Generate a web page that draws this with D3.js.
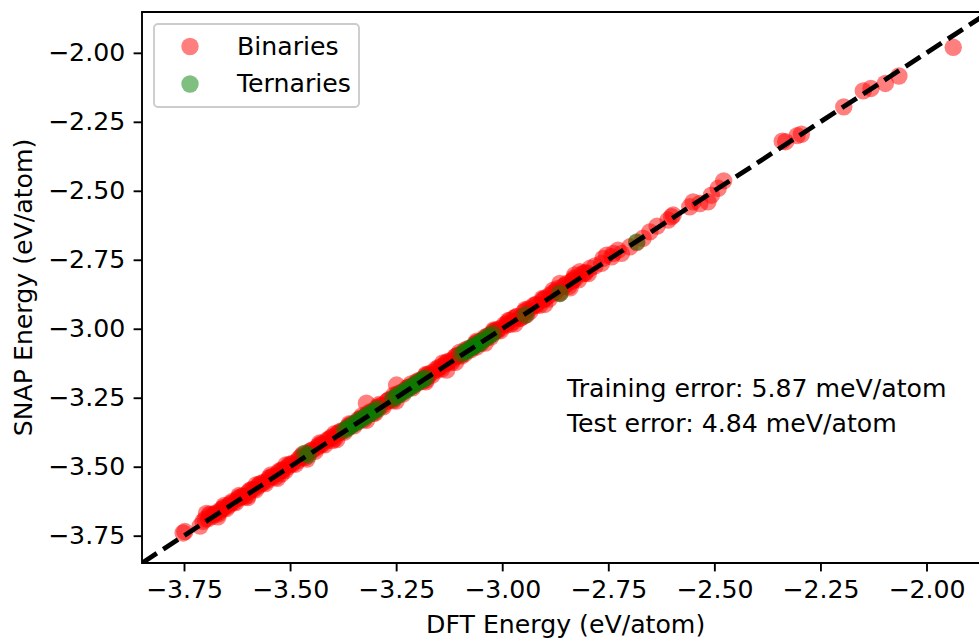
<!DOCTYPE html>
<html>
<head>
<meta charset="utf-8">
<script src="https://cdn.jsdelivr.net/npm/d3@7"></script>
<style>
  html, body { margin: 0; padding: 0; background: #fff; }
  svg { display: block; }
  text { font-family: "DejaVu Sans", sans-serif; fill: #000; }
</style>
</head>
<body>
<svg id="chart" width="979" height="638"></svg>
<script>
// ---- data ----
const tickValues = [-3.75, -3.50, -3.25, -3.00, -2.75, -2.50, -2.25, -2.00];
const seriesNames = ["Binaries", "Ternaries"];

const binariesDFT = [
  -1.937, -2.065, -2.097, -2.131, -2.149, -2.195, -2.295, -2.305, -2.332, -2.340,
  -2.478, -2.491, -2.507, -2.515, -2.534, -2.550, -2.558, -2.597, -2.601, -2.609,
  -2.635, -2.652, -2.668, -2.683, -2.699, -2.719, -2.727, -2.738, -2.742, -2.754,
  -2.762, -2.766, -2.781, -2.793, -2.805, -2.817, -2.829, -2.835, -2.848, -2.864,
  -2.864, -2.880, -2.888, -2.903, -2.919, -2.935, -2.943, -2.950, -2.958, -2.966,
  -2.974, -2.982, -2.990, -3.005, -3.012, -3.021, -3.029, -3.040, -3.050, -3.060,
  -3.062, -3.075, -3.088, -3.098, -3.110, -3.120, -3.131, -3.131, -3.142, -3.153,
  -3.165, -3.175, -3.180, -3.186, -3.198, -3.210, -3.222, -3.235, -3.249, -3.247,
  -3.258, -3.270, -3.282, -3.295, -3.300, -3.306, -3.320, -3.318, -3.330, -3.342,
  -3.355, -3.366, -3.378, -3.390, -3.400, -3.402, -3.413, -3.425, -3.436, -3.447,
  -3.458, -3.470, -3.482, -3.494, -3.505, -3.517, -3.520, -3.528, -3.540, -3.552,
  -3.563, -3.575, -3.586, -3.598, -3.600, -3.610, -3.621, -3.632, -3.644, -3.655,
  -3.667, -3.678, -3.689, -3.697, -3.712, -3.748, -3.752,
  -3.705, -3.700, -3.693, -3.684, -3.676, -3.670, -3.662, -3.657, -3.650, -3.641,
  -3.636, -3.628, -3.620, -3.614, -3.606, -3.595, -3.590, -3.581, -3.572, -3.566,
  -3.558, -3.549, -3.543, -3.534, -3.525, -3.519, -3.511, -3.502, -3.496, -3.487,
  -3.478, -3.473, -3.464, -3.455, -3.449, -3.441, -3.432, -3.426, -3.418, -3.409,
  -3.403, -3.395, -3.386, -3.380, -3.372, -3.363, -3.357, -3.349, -3.340, -3.334,
  -3.326, -3.317, -3.311, -3.303, -3.294, -3.288, -3.280, -3.271, -3.265, -3.257,
  -3.248, -3.242, -3.234, -3.225, -3.219, -3.211, -3.202, -3.196, -3.188, -3.179,
  -3.173, -3.165, -3.156, -3.150, -3.142, -3.133, -3.127, -3.119, -3.110, -3.104,
  -3.096, -3.087, -3.081, -3.073, -3.064, -3.058, -3.050, -3.041, -3.035, -3.027,
  -3.018, -3.012, -3.004, -2.995, -2.989, -2.981, -2.972, -2.966, -2.958, -2.949,
  -2.943, -2.935, -2.926, -2.920, -2.912, -2.903, -2.897, -2.889, -2.880, -2.874,
  -2.866, -2.857, -2.851, -2.843, -2.834, -2.828, -2.820, -2.811, -2.805, -2.797,
  -3.690, -3.655, -3.620, -3.580, -3.545, -3.510, -3.470, -3.430, -3.395, -3.360,
  -3.330, -3.290, -3.255, -3.215, -3.180, -3.140, -3.100, -3.060, -3.020, -2.985,
  -2.945, -2.905, -2.870, -2.830,
  -3.670, -3.600, -3.530, -3.460, -3.390, -3.320, -3.250, -3.180, -3.110, -3.040,
  -2.970, -2.900, -2.840
];
const binariesSNAP = [
  -1.980, -2.084, -2.111, -2.129, -2.138, -2.196, -2.295, -2.300, -2.322, -2.320,
  -2.464, -2.491, -2.516, -2.540, -2.546, -2.540, -2.558, -2.588, -2.594, -2.606,
  -2.628, -2.649, -2.672, -2.688, -2.703, -2.727, -2.715, -2.727, -2.739, -2.733,
  -2.745, -2.763, -2.772, -2.781, -2.799, -2.793, -2.805, -2.828, -2.836, -2.836,
  -2.872, -2.860, -2.878, -2.896, -2.914, -2.926, -2.950, -2.955, -2.962, -2.955,
  -2.975, -2.970, -2.987, -2.999, -3.008, -3.011, -3.023, -3.036, -3.044, -3.066,
  -3.058, -3.070, -3.090, -3.095, -3.102, -3.116, -3.125, -3.150, -3.136, -3.150,
  -3.158, -3.172, -3.186, -3.180, -3.194, -3.206, -3.215, -3.228, -3.204, -3.240,
  -3.255, -3.262, -3.278, -3.288, -3.306, -3.300, -3.270, -3.312, -3.325, -3.338,
  -3.348, -3.360, -3.372, -3.384, -3.405, -3.396, -3.405, -3.420, -3.430, -3.440,
  -3.452, -3.466, -3.478, -3.490, -3.500, -3.512, -3.526, -3.522, -3.535, -3.548,
  -3.558, -3.570, -3.582, -3.592, -3.605, -3.606, -3.615, -3.628, -3.640, -3.650,
  -3.664, -3.672, -3.675, -3.669, -3.715, -3.735, -3.740,
  -3.698, -3.690, -3.688, -3.680, -3.668, -3.672, -3.655, -3.648, -3.652, -3.634,
  -3.626, -3.630, -3.611, -3.608, -3.609, -3.586, -3.582, -3.584, -3.563, -3.559,
  -3.561, -3.540, -3.536, -3.538, -3.515, -3.512, -3.514, -3.493, -3.488, -3.491,
  -3.469, -3.462, -3.467, -3.446, -3.440, -3.444, -3.423, -3.416, -3.421, -3.400,
  -3.393, -3.398, -3.377, -3.370, -3.375, -3.354, -3.347, -3.352, -3.330, -3.324,
  -3.329, -3.307, -3.301, -3.306, -3.284, -3.279, -3.283, -3.262, -3.255, -3.260,
  -3.238, -3.233, -3.237, -3.215, -3.210, -3.214, -3.192, -3.187, -3.191, -3.169,
  -3.164, -3.168, -3.146, -3.141, -3.145, -3.123, -3.118, -3.122, -3.100, -3.095,
  -3.099, -3.077, -3.072, -3.076, -3.054, -3.049, -3.053, -3.031, -3.026, -3.030,
  -3.008, -3.003, -3.007, -2.985, -2.980, -2.984, -2.962, -2.957, -2.961, -2.939,
  -2.934, -2.938, -2.916, -2.911, -2.915, -2.893, -2.888, -2.892, -2.870, -2.865,
  -2.869, -2.847, -2.842, -2.846, -2.824, -2.819, -2.823, -2.801, -2.796, -2.800,
  -3.672, -3.640, -3.604, -3.566, -3.530, -3.494, -3.455, -3.414, -3.380, -3.344,
  -3.315, -3.274, -3.240, -3.200, -3.166, -3.124, -3.085, -3.045, -3.004, -2.970,
  -2.930, -2.890, -2.855, -2.815,
  -3.682, -3.612, -3.542, -3.472, -3.402, -3.332, -3.262, -3.192, -3.122, -3.052,
  -2.982, -2.912, -2.852
];

const ternariesDFT = [
  -2.683, -2.864, -2.945, -3.457, -3.465,
  -3.022, -3.030, -3.040, -3.050, -3.053, -3.062, -3.068, -3.072, -3.082, -3.088, -3.096,
  -3.180, -3.186, -3.194, -3.202, -3.210, -3.218, -3.226, -3.234, -3.242, -3.250, -3.258,
  -3.292, -3.300, -3.308, -3.316, -3.324, -3.332, -3.340, -3.348, -3.356, -3.364, -3.372
];
const ternariesSNAP = [
  -2.685, -2.872, -2.950, -3.458, -3.451,
  -3.018, -3.026, -3.036, -3.046, -3.053, -3.058, -3.065, -3.068, -3.079, -3.083, -3.092,
  -3.178, -3.183, -3.190, -3.198, -3.206, -3.214, -3.222, -3.230, -3.238, -3.246, -3.254,
  -3.289, -3.297, -3.305, -3.312, -3.320, -3.328, -3.336, -3.344, -3.352, -3.360, -3.368
];

const annotations = ["Training error: 5.87 meV/atom", "Test error: 4.84 meV/atom"];
const xLabel = "DFT Energy (eV/atom)";
const yLabel = "SNAP Energy (eV/atom)";
const limits = [-3.849, -1.852];

// ---- layout ----
const axLeft = 142, axTop = 12, axBottom = 563, axRight = 989.3;
const fontSize = 25.2;
const svg = d3.select("#chart");

const x = d3.scaleLinear().domain(limits).range([axLeft, axRight]);
const y = d3.scaleLinear().domain(limits).range([axBottom, axTop]);

const fmt = v => d3.format(".2f")(v).replace("-", "\u2212");

svg.append("defs").append("clipPath").attr("id", "clip")
  .append("rect").attr("x", axLeft).attr("y", axTop)
  .attr("width", axRight - axLeft).attr("height", axBottom - axTop);

const plot = svg.append("g").attr("clip-path", "url(#clip)");

const binaries = binariesDFT.map((d, i) => ({ x: d, y: binariesSNAP[i] }));
const ternaries = ternariesDFT.map((d, i) => ({ x: d, y: ternariesSNAP[i] }));

const r = 8.7;
plot.append("g").selectAll("circle").data(binaries).join("circle")
  .attr("cx", d => x(d.x)).attr("cy", d => y(d.y)).attr("r", r)
  .attr("fill", "red").attr("fill-opacity", 0.5);
plot.append("g").selectAll("circle").data(ternaries).join("circle")
  .attr("cx", d => x(d.x)).attr("cy", d => y(d.y)).attr("r", r)
  .attr("fill", "green").attr("fill-opacity", 0.5);

// y = x dashed line
plot.append("line")
  .attr("x1", x(limits[0])).attr("y1", y(limits[0]))
  .attr("x2", x(limits[1])).attr("y2", y(limits[1]))
  .attr("stroke", "#000").attr("stroke-width", 4.8)
  .attr("stroke-dasharray", "17.7,7.6");

// axes
const xAxis = d3.axisBottom(x).tickValues(tickValues).tickFormat(fmt)
  .tickSizeInner(8.4).tickSizeOuter(0).tickPadding(8.4);
const yAxis = d3.axisLeft(y).tickValues(tickValues).tickFormat(fmt)
  .tickSizeInner(8.4).tickSizeOuter(0).tickPadding(8.4);

const gx = svg.append("g").attr("transform", `translate(0,${axBottom})`).call(xAxis);
const gy = svg.append("g").attr("transform", `translate(${axLeft},0)`).call(yAxis);
[gx, gy].forEach(g => {
  g.selectAll("path.domain").remove();
  g.selectAll(".tick line").attr("stroke", "#000").attr("stroke-width", 1.9);
  g.selectAll(".tick text").attr("font-size", fontSize)
    .attr("font-family", "DejaVu Sans").attr("fill", "#000");
});

// spines
const spines = svg.append("g").attr("stroke", "#000").attr("stroke-width", 1.9).attr("fill", "none");
spines.append("line").attr("x1", axLeft).attr("x2", axLeft).attr("y1", axTop - 0.95).attr("y2", axBottom + 0.95);
spines.append("line").attr("x1", axLeft).attr("x2", axRight).attr("y1", axBottom).attr("y2", axBottom);
spines.append("line").attr("x1", axLeft).attr("x2", axRight).attr("y1", axTop).attr("y2", axTop);
spines.append("line").attr("x1", axRight).attr("x2", axRight).attr("y1", axTop).attr("y2", axBottom);

// axis labels
svg.append("text").attr("x", (axLeft + axRight) / 2).attr("y", 633)
  .attr("text-anchor", "middle").attr("font-size", fontSize).text(xLabel);
svg.append("text").attr("transform", `translate(32,${(axTop + axBottom) / 2}) rotate(-90)`)
  .attr("text-anchor", "middle").attr("font-size", fontSize).text(yLabel);

// annotations
annotations.forEach((t, i) => {
  svg.append("text").attr("x", 567).attr("y", 397 + i * 35)
    .attr("font-size", fontSize).text(t);
});

// legend
const legend = svg.append("g");
legend.append("rect").attr("x", 154).attr("y", 24).attr("width", 205).attr("height", 83)
  .attr("rx", 4).attr("fill", "#fff").attr("fill-opacity", 0.8)
  .attr("stroke", "#cccccc").attr("stroke-width", 1.9);
const legendColors = ["red", "green"];
seriesNames.forEach((name, i) => {
  legend.append("circle").attr("cx", 190).attr("cy", 46.5 + i * 37.5).attr("r", r)
    .attr("fill", legendColors[i]).attr("fill-opacity", 0.5);
  legend.append("text").attr("x", 237).attr("y", 54.5 + i * 37.5)
    .attr("font-size", fontSize).text(name);
});
</script>
</body>
</html>
